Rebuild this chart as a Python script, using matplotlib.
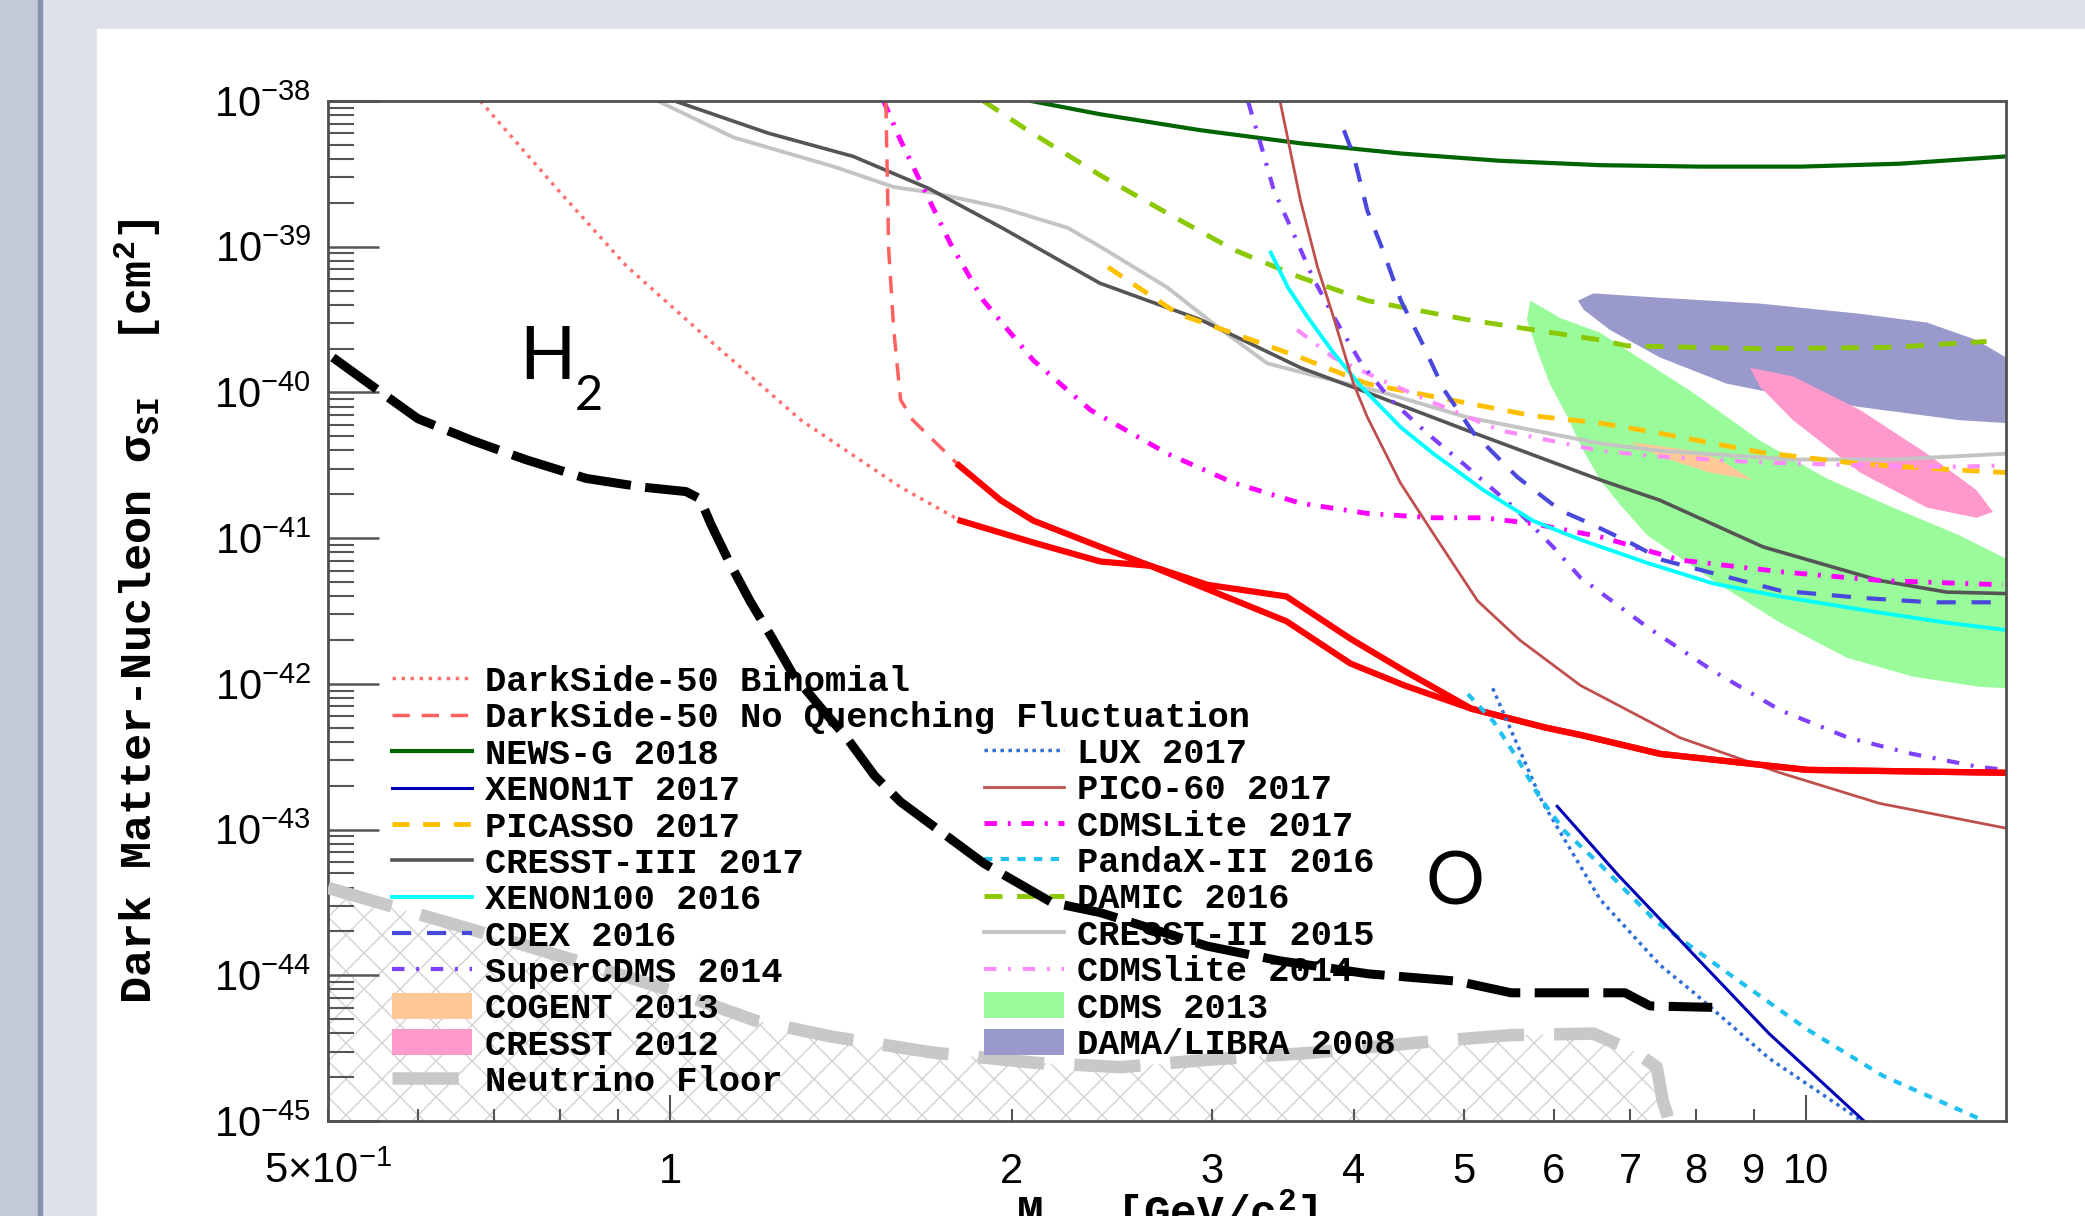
import numpy as np
import matplotlib
matplotlib.use("Agg")
import matplotlib.pyplot as plt
from matplotlib.patches import Rectangle
from matplotlib.collections import LineCollection
from matplotlib.ticker import LogLocator, NullFormatter

plt.rcParams['font.family'] = 'Liberation Sans'
plt.rcParams['mathtext.fontset'] = 'custom'
plt.rcParams['mathtext.rm'] = 'Liberation Sans'
plt.rcParams['mathtext.it'] = 'Liberation Sans:italic'
plt.rcParams['mathtext.bf'] = 'Liberation Sans:bold'

# WIMP mass [GeV/c^2] and log10(cross section / cm^2)
newsg_m = [2.08, 2.39, 2.93, 3.59, 4.40, 5.38, 6.59, 8.07, 9.89, 12.1, 15.0]
newsg_log = [-38.00, -38.09, -38.20, -38.29, -38.36, -38.41, -38.44, -38.45, -38.45, -38.43, -38.38]

xenon1t_m = [6.04, 6.83, 7.97, 9.28, 11.25]
xenon1t_log = [-42.84, -43.31, -43.86, -44.40, -45.0]

picasso_m = [2.43, 2.80, 3.07, 3.59, 4.11, 4.86, 5.75, 6.59, 7.44, 9.11, 11.15, 12.77, 15.0]
picasso_log = [-39.14, -39.46, -39.57, -39.76, -39.94, -40.05, -40.16, -40.21, -40.28, -40.41, -40.49, -40.52, -40.55]

cresst3_m = [1.01, 1.22, 1.45, 1.69, 1.96, 2.39, 2.93, 3.59, 4.11, 5.03, 6.59, 7.44, 9.17, 11.6, 13.3, 15.0]
cresst3_log = [-38.0, -38.22, -38.38, -38.60, -38.87, -39.25, -39.50, -39.83, -40.00, -40.26, -40.60, -40.74, -41.06, -41.29, -41.37, -41.38]

xenon100_m = [3.38, 3.50, 3.64, 3.84, 4.06, 4.40, 4.70, 5.20, 5.75, 6.33, 7.25, 8.28, 9.49, 11.6, 13.3, 15.0]
xenon100_log = [-39.04, -39.28, -39.48, -39.73, -39.96, -40.24, -40.42, -40.67, -40.88, -41.01, -41.17, -41.31, -41.40, -41.51, -41.58, -41.63]

cdex_m = [3.92, 4.00, 4.11, 4.25, 4.40, 4.58, 4.80, 5.10, 5.57, 6.08, 6.46, 7.00, 7.48, 8.28, 9.49, 11.2, 12.9, 15.0]
cdex_log = [-38.20, -38.38, -38.75, -39.04, -39.37, -39.64, -39.98, -40.28, -40.58, -40.81, -40.90, -41.03, -41.15, -41.24, -41.36, -41.41, -41.44, -41.44]

supercdms_m = [3.23, 3.31, 3.40, 3.54, 3.68, 3.84, 4.06, 4.31, 4.64, 5.03, 5.57, 5.99, 6.33, 7.25, 8.28, 9.49, 10.9, 12.4, 14.2, 15.0]
supercdms_log = [-38.01, -38.29, -38.61, -38.91, -39.21, -39.48, -39.80, -40.05, -40.28, -40.51, -40.81, -41.06, -41.27, -41.61, -41.91, -42.18, -42.37, -42.48, -42.57, -42.59]

lux_m = [5.30, 5.86, 6.59, 7.44, 7.97, 9.28, 11.15]
lux_log = [-42.03, -42.81, -43.48, -43.93, -44.12, -44.57, -44.99]

pico60_m = [3.446, 3.516, 3.589, 3.716, 3.837, 3.997, 4.111, 4.395, 4.70, 5.14, 5.60, 6.33, 7.75, 9.49, 11.61, 15.0]
pico60_log = [-38.01, -38.34, -38.68, -39.14, -39.48, -39.94, -40.17, -40.62, -40.97, -41.43, -41.70, -42.01, -42.37, -42.61, -42.82, -42.99]

cdmslite17_m = [1.542, 1.596, 1.663, 1.766, 1.888, 2.089, 2.345, 2.741, 3.134, 3.589, 4.111, 4.70, 5.20, 5.75, 6.59, 7.75, 9.49, 11.61, 14.9]
cdmslite17_log = [-38.0, -38.27, -38.56, -38.98, -39.37, -39.78, -40.12, -40.42, -40.62, -40.76, -40.83, -40.86, -40.86, -40.90, -40.99, -41.15, -41.23, -41.29, -41.32]

pandax_m = [5.04, 5.31, 5.58, 5.82, 6.13, 6.59, 7.38, 8.59, 10.02, 11.69, 14.36]
pandax_log = [-42.07, -42.26, -42.52, -42.77, -43.01, -43.24, -43.63, -44.0, -44.37, -44.69, -45.0]

damic_m = [1.888, 2.064, 2.393, 2.741, 3.134, 3.589, 4.111, 5.03, 6.59, 6.96, 9.11, 11.93, 14.42]
damic_log = [-38.0, -38.20, -38.51, -38.77, -39.02, -39.21, -39.37, -39.50, -39.64, -39.68, -39.70, -39.69, -39.65]

cresst2_m = [0.976, 1.138, 1.394, 1.574, 1.707, 1.955, 2.239, 2.393, 2.741, 3.034, 3.356, 3.716, 4.246, 5.03, 6.59, 7.44, 9.74, 11.93, 15.0]
cresst2_log = [-38.0, -38.25, -38.45, -38.59, -38.63, -38.73, -38.87, -39.00, -39.28, -39.55, -39.80, -39.89, -40.00, -40.17, -40.35, -40.40, -40.46, -40.46, -40.42]

cdmslite14_m = [3.565, 3.837, 4.246, 4.70, 5.38, 6.59, 7.44, 9.11, 11.15, 13.65, 15.0]
cdmslite14_log = [-39.57, -39.76, -39.92, -40.07, -40.26, -40.40, -40.44, -40.48, -40.50, -40.51, -40.50]

ds_binom_m = [0.681, 0.799, 0.915, 1.065, 1.304, 1.596, 1.802]
ds_binom_log = [-38.0, -38.62, -39.13, -39.59, -40.19, -40.65, -40.88]
ds_nqf_m = [1.549, 1.558, 1.574, 1.596, 1.636, 1.796]
ds_nqf_log = [-38.0, -39.02, -39.57, -40.05, -40.19, -40.50]
ds_main_a_m = [1.796, 1.955, 2.089, 2.393, 2.649, 3.016, 3.489, 3.972, 4.43, 5.075, 5.90, 6.33, 7.44, 10.02, 15.0]
ds_main_a_log = [-40.50, -40.74, -40.88, -41.06, -41.19, -41.37, -41.57, -41.86, -42.01, -42.17, -42.30, -42.35, -42.48, -42.59, -42.61]
ds_main_b_m = [1.802, 2.089, 2.393, 2.649, 2.973, 3.489, 3.972, 4.43, 5.075, 5.90, 6.33, 7.44, 10.02, 15.0]
ds_main_b_log = [-40.88, -41.03, -41.16, -41.19, -41.32, -41.40, -41.69, -41.91, -42.17, -42.30, -42.35, -42.48, -42.59, -42.61]

h2_m = [0.505, 0.539, 0.600, 0.670, 0.746, 0.844, 0.947, 1.033, 1.063, 1.086, 1.127, 1.176, 1.229, 1.282,
        1.360, 1.431, 1.514, 1.596, 1.888, 2.168, 2.393, 2.973, 3.44, 4.12, 4.93, 5.50, 6.59, 6.93, 7.29, 8.27]
h2_log = [-39.76, -39.92, -40.18, -40.33, -40.46, -40.59, -40.65, -40.68, -40.73, -40.90, -41.16, -41.43, -41.68, -41.93,
          -42.17, -42.37, -42.63, -42.81, -43.23, -43.50, -43.57, -43.80, -43.90, -43.99, -44.04, -44.12, -44.12, -44.12, -44.21, -44.22]

nufloor_m = [0.5, 0.672, 0.827, 1.016, 1.188, 1.386, 1.703, 2.094, 2.493, 2.973, 3.69, 4.585, 5.50, 6.50, 7.09, 7.39, 7.48, 7.58]
nufloor_log = [-43.40, -43.69, -43.90, -44.12, -44.31, -44.42, -44.53, -44.60, -44.63, -44.58, -44.53, -44.46, -44.41, -44.40, -44.53, -44.63, -44.86, -45.0]

cogent_m = [7.00, 7.95, 8.40, 8.97, 8.23, 7.44]
cogent_log = [-40.34, -40.40, -40.46, -40.60, -40.55, -40.44]
cresst12_m = [8.93, 9.74, 11.16, 12.78, 14.13, 14.61, 14.13, 12.78, 11.16, 9.74, 9.11]
cresst12_log = [-39.83, -39.89, -40.12, -40.42, -40.67, -40.82, -40.86, -40.79, -40.55, -40.19, -39.96]
cdms13_m = [5.72, 6.08, 6.59, 6.96, 7.95, 9.11, 10.43, 11.93, 13.65, 15.0,
            15.0, 14.22, 12.42, 10.86, 9.49, 8.28, 7.25, 6.86, 6.59, 6.37, 6.17, 5.95, 5.80, 5.68]
cdms13_log = [-39.37, -39.49, -39.59, -39.71, -40.00, -40.33, -40.59, -40.79, -40.98, -41.14,
              -42.03, -42.02, -41.95, -41.82, -41.58, -41.29, -40.98, -40.77, -40.60, -40.40, -40.17, -39.94, -39.71, -39.50]
dama_m = [6.30, 6.50, 7.44, 9.11, 11.16, 12.78, 14.13, 15.0, 15.0, 13.65, 11.16, 9.74, 8.52, 7.44, 6.72, 6.37]
dama_log = [-39.37, -39.32, -39.35, -39.39, -39.46, -39.52, -39.64, -39.76, -40.21, -40.19, -40.10, -40.03, -39.94, -39.76, -39.57, -39.43]

ytick_exp = [-45, -44, -43, -42, -41, -40, -39, -38]
ytick_labels = [r'$10^{-45}$', r'$10^{-44}$', r'$10^{-43}$', r'$10^{-42}$', r'$10^{-41}$', r'$10^{-40}$', r'$10^{-39}$', r'$10^{-38}$']
xtick_major = [1, 10]
xtick_major_labels = ['1', '10']
xtick_minor = [0.5, 0.6, 0.7, 0.8, 0.9, 2, 3, 4, 5, 6, 7, 8, 9]
xtick_minor_labels = [r'$5{\times}10^{-1}$', '', '', '', '', '2', '3', '4', '5', '6', '7', '8', '9']


def lg(a):
    return 10.0 ** np.asarray(a)


fig = plt.figure(figsize=(20.85, 12.16), dpi=100, facecolor='#dde2ea')
fig.patches.append(Rectangle((0, 0), 38 / 2085, 1, transform=fig.transFigure, color='#c3c9d6', zorder=-2))
fig.patches.append(Rectangle((38 / 2085, 0), 4 / 2085, 1, transform=fig.transFigure, color='#8593b2', zorder=-2))
fig.patches.append(Rectangle((97 / 2085, 0), 1, (1216 - 29) / 1216, transform=fig.transFigure, color='white', zorder=-2))

ax = fig.add_axes([0.1573, 0.0781, 0.8048, 0.8388])
ax.set_xscale('log')
ax.set_yscale('log')

# filled regions
cdms_p, = ax.fill(cdms13_m, lg(cdms13_log), color='#99fb99', lw=0, zorder=1, label='CDMS 2013')
dama_p, = ax.fill(dama_m, lg(dama_log), color='#9999cc', lw=0, zorder=1, label='DAMA/LIBRA 2008')
cresst12_p, = ax.fill(cresst12_m, lg(cresst12_log), color='#ff99cc', lw=0, zorder=1, label='CRESST 2012')
cogent_p, = ax.fill(cogent_m, lg(cogent_log), color='#ffc896', lw=0, zorder=1, label='COGENT 2013')

# hatched area under the neutrino floor
floor_fill = ax.fill_between(nufloor_m, lg(nufloor_log), 1e-46, facecolor='none', edgecolor='none', zorder=1)
W, H = 0.8048 * 2085, 0.8388 * 1216
r = H / W
segs = []
for c in np.arange(-r - 0.05, 1.05, 36 / W):
    segs.append([(c, 0), (c + r, 1)])
    segs.append([(c + r, 0), (c, 1)])
hatch = LineCollection(segs, colors='#d2d2d2', linewidths=1.0, transform=ax.transAxes, zorder=1)
ax.add_collection(hatch)
hatch.set_clip_path(floor_fill.get_paths()[0], ax.transData)

# limit curves
kw = dict(solid_joinstyle='round', dash_joinstyle='round')
cresst2_l, = ax.plot(cresst2_m, lg(cresst2_log), color='#c4c4c4', lw=2.8, label='CRESST-II 2015', **kw)
cresst3_l, = ax.plot(cresst3_m, lg(cresst3_log), color='#555555', lw=2.6, label='CRESST-III 2017', **kw)
newsg_l, = ax.plot(newsg_m, lg(newsg_log), color='#006400', lw=3, label='NEWS-G 2018', **kw)
damic_l, = ax.plot(damic_m, lg(damic_log), color='#8cc800', lw=3.5, ls=(0, (3.7, 3.0)), label='DAMIC 2016', **kw)
picasso_l, = ax.plot(picasso_m, lg(picasso_log), color='#ffc000', lw=3.5, ls=(0, (3.5, 2.8)), label='PICASSO 2017', **kw)
cdmslite14_l, = ax.plot(cdmslite14_m, lg(cdmslite14_log), color='#ff8cff', lw=3, ls=(0, (3, 2.8, 0.7, 2.8)), label='CDMSlite 2014', **kw)
cdmslite17_l, = ax.plot(cdmslite17_m, lg(cdmslite17_log), color='#ff00ff', lw=3.5, ls=(0, (2.6, 2.2, 0.6, 2.2)), label='CDMSLite 2017', **kw)
supercdms_l, = ax.plot(supercdms_m, lg(supercdms_log), color='#8040ff', lw=3, ls=(0, (3, 2.8, 0.7, 2.8)), label='SuperCDMS 2014', **kw)
cdex_l, = ax.plot(cdex_m, lg(cdex_log), color='#4848dc', lw=3, ls=(0, (4.6, 3.8)), label='CDEX 2016', **kw)
xenon100_l, = ax.plot(xenon100_m, lg(xenon100_log), color='#00ffff', lw=2.8, label='XENON100 2016', **kw)
pico60_l, = ax.plot(pico60_m, lg(pico60_log), color='#c0504d', lw=2, label='PICO-60 2017', **kw)
ds_binom_l, = ax.plot(ds_binom_m, lg(ds_binom_log), color='#ff7070', lw=2.5, ls=(0, (1, 1.6)), label='DarkSide-50 Binomial')
ds_nqf_l, = ax.plot(ds_nqf_m, lg(ds_nqf_log), color='#ff6060', lw=2.5, ls=(0, (5, 3.4)), label='DarkSide-50 No Quenching Fluctuation', **kw)
ax.plot(ds_main_a_m, lg(ds_main_a_log), color='#ff0000', lw=4.5, **kw)
ax.plot(ds_main_b_m, lg(ds_main_b_log), color='#ff0000', lw=4.5, **kw)
lux_l, = ax.plot(lux_m, lg(lux_log), color='#2f6fd6', lw=2.5, ls=(0, (1, 1.3)), label='LUX 2017')
pandax_l, = ax.plot(pandax_m, lg(pandax_log), color='#20c0f0', lw=3, ls=(0, (2, 2)), label='PandaX-II 2016')
xenon1t_l, = ax.plot(xenon1t_m, lg(xenon1t_log), color='#0000b4', lw=2.2, label='XENON1T 2017', **kw)
floor_l, = ax.plot(nufloor_m, lg(nufloor_log), color='#c8c8c8', lw=9, ls=(0, (5.3, 2.4)), zorder=3, label='Neutrino Floor')
ax.plot(h2_m, lg(h2_log), color='black', lw=6.5, ls=(0, (6, 1.6)), zorder=6)

ax.set_xlim(0.5, 15)
ax.set_ylim(1e-45, 1e-38)

# ticks
ax.set_yticks(lg(ytick_exp), labels=ytick_labels)
ax.yaxis.set_minor_locator(LogLocator(base=10, subs=np.arange(2, 10)))
ax.yaxis.set_minor_formatter(NullFormatter())
ax.set_xticks(xtick_major, labels=xtick_major_labels)
ax.set_xticks(xtick_minor, labels=xtick_minor_labels, minor=True)
ax.tick_params(axis='y', which='major', direction='in', length=37, width=1.8, color='#555555', pad=12, labelsize=30)
ax.tick_params(axis='y', which='minor', direction='in', length=19, width=1.5, color='#555555')
ax.tick_params(axis='x', which='major', direction='in', length=19, width=1.5, color='#555555', pad=22, labelsize=30)
ax.tick_params(axis='x', which='minor', direction='in', length=9, width=1.5, color='#555555', pad=22, labelsize=30)
ax.tick_params(top=False, right=False)
for s in ax.spines.values():
    s.set_color('#505050')
    s.set_linewidth(2)

mono = {'family': 'Liberation Mono', 'weight': 'bold'}
ax.set_ylabel(r'Dark Matter-Nucleon σ$_{\mathregular{SI}}$  [cm$^{\mathregular{2}}$]', fontsize=32.5, **mono)
ax.yaxis.set_label_coords(-0.098, 0.5)
ax.set_xlabel(r'M$_{\mathregular{\chi}}$  [GeV/c$^{\mathregular{2}}$]', fontsize=32, **mono)
ax.xaxis.set_label_coords(0.5, -0.0657)

ax.text(0.1138, 0.7275, 'H', transform=ax.transAxes, fontsize=53, family='Lato', va='baseline', ha='left')
ax.text(0.147, 0.697, '2', transform=ax.transAxes, fontsize=35, family='Lato', va='baseline', ha='left')
ax.text(0.654, 0.2118, 'O', transform=ax.transAxes, fontsize=53, family='Lato', va='baseline', ha='left')

lprop = {'family': 'Liberation Mono', 'weight': 'bold', 'size': 25.5}
lkw = dict(loc='upper left', frameon=False, prop=lprop, handlelength=2.26, handletextpad=0.37,
           labelspacing=0.095, borderpad=0, borderaxespad=0, handleheight=0.75)
left_handles = [ds_binom_l, ds_nqf_l, newsg_l, xenon1t_l, picasso_l, cresst3_l, xenon100_l, cdex_l,
                supercdms_l, cogent_p, cresst12_p, floor_l]
right_handles = [lux_l, pico60_l, cdmslite17_l, pandax_l, damic_l, cresst2_l, cdmslite14_l, cdms_p, dama_p]
leg1 = ax.legend(handles=left_handles, bbox_to_anchor=(0.038, 0.447), **lkw)
ax.add_artist(leg1)
ax.legend(handles=right_handles, bbox_to_anchor=(0.391, 0.3765), **lkw)

fig.savefig('out.png', dpi=100, facecolor=fig.get_facecolor())
